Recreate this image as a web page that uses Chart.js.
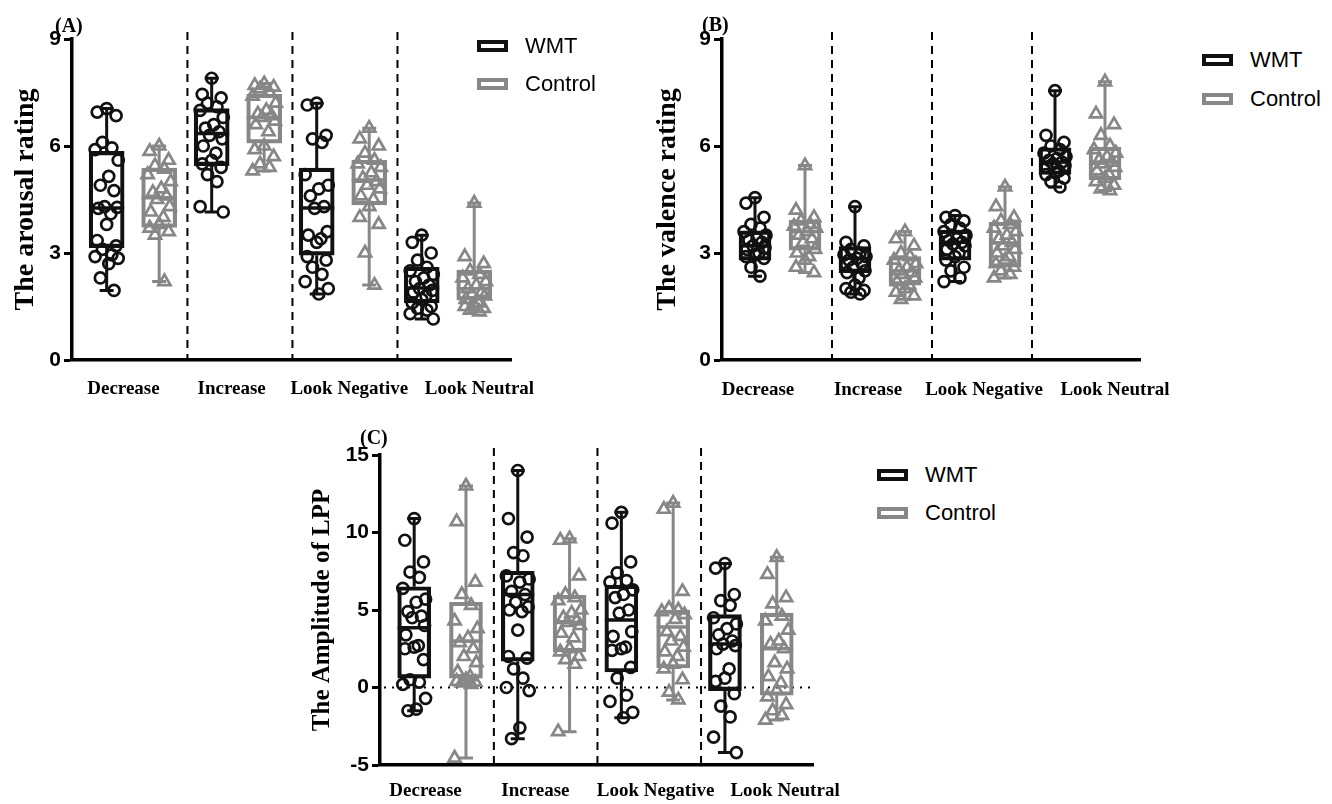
<!DOCTYPE html>
<html>
<head>
<meta charset="utf-8">
<script src="https://cdn.jsdelivr.net/npm/chart.js@4.4.1/dist/chart.umd.min.js"></script>
<style>
  body { margin: 0; background: #fff; }
  #page { position: relative; width: 1332px; height: 804px; overflow: hidden; }
  canvas { position: absolute; }
  .tag { position: absolute; font: bold 20px "Liberation Serif", "Times New Roman", serif; line-height: 20px; }
  .leg { position: absolute; font: 22px "Liberation Sans", Arial, sans-serif; line-height: 24px; height: 24px; display: flex; align-items: center; white-space: nowrap; }
  .leg .box { display: inline-block; width: 23px; height: 4px; border: 4px solid; margin-right: 17px; }
</style>
</head>
<body>
<div id="page">
  <canvas id="chartA" width="560" height="420" style="left:0;top:0"></canvas>
  <canvas id="chartB" width="550" height="420" style="left:640px;top:0"></canvas>
  <canvas id="chartC" width="570" height="384" style="left:290px;top:420px"></canvas>

  <div class="tag" style="left:55px;top:15px">(A)</div>
  <div class="tag" style="left:702px;top:14px">(B)</div>
  <div class="tag" style="left:360px;top:427px">(C)</div>

  <div class="leg" style="left:477px;top:34px"><span class="box" style="border-color:#111"></span>WMT</div>
  <div class="leg" style="left:477px;top:72px"><span class="box" style="border-color:#878787"></span>Control</div>
  <div class="leg" style="left:1202px;top:48px"><span class="box" style="border-color:#111"></span>WMT</div>
  <div class="leg" style="left:1202px;top:87px"><span class="box" style="border-color:#878787"></span>Control</div>
  <div class="leg" style="left:877px;top:463px"><span class="box" style="border-color:#111"></span>WMT</div>
  <div class="leg" style="left:877px;top:501px"><span class="box" style="border-color:#878787"></span>Control</div>
</div>
<script>
// categories and tick labels
const categories = ["Decrease", "Increase", "Look Negative", "Look Neutral"];
const ratingTicks = [0, 3, 6, 9];
const lppTicks = [-5, 0, 5, 10, 15];

// (A) arousal rating: individual points per condition
const arousalWMT = [
  [7.05, 6.95, 6.85, 6.1, 5.95, 5.9, 5.6, 5.15, 4.9, 4.75, 4.3, 4.28, 4.25, 4.1, 3.8, 3.35, 3.2, 3.1, 2.95, 2.9, 2.85, 2.7, 2.3, 1.95],
  [7.9, 7.45, 7.35, 7.2, 7.1, 7.0, 6.8, 6.6, 6.5, 6.4, 6.3, 6.2, 6.0, 5.8, 5.6, 5.5, 5.4, 5.2, 5.0, 4.3, 4.15],
  [7.2, 7.15, 6.3, 6.2, 6.1, 5.2, 4.9, 4.8, 4.6, 4.3, 4.25, 3.6, 3.5, 3.4, 3.3, 2.9, 2.8, 2.6, 2.4, 2.2, 2.0, 1.85],
  [3.5, 3.3, 3.0, 2.8, 2.6, 2.5, 2.4, 2.3, 2.2, 2.1, 2.0, 1.95, 1.9, 1.8, 1.7, 1.6, 1.5, 1.45, 1.4, 1.3, 1.15]
];
const arousalControl = [
  [6.0, 5.85, 5.6, 5.45, 5.35, 5.2, 5.0, 4.8, 4.7, 4.6, 4.5, 4.3, 4.15, 4.0, 3.8, 3.7, 3.6, 3.5, 2.2],
  [7.75, 7.7, 7.65, 7.6, 7.5, 7.4, 7.2, 7.0, 6.9, 6.85, 6.8, 6.7, 6.6, 6.4, 6.0, 5.9, 5.7, 5.5, 5.4, 5.3],
  [6.5, 6.2, 6.0, 5.8, 5.6, 5.5, 5.4, 5.25, 5.1, 5.0, 4.9, 4.8, 4.6, 4.5, 4.3, 4.0, 3.8, 3.0, 2.1],
  [4.4, 2.9, 2.7, 2.5, 2.4, 2.3, 2.2, 2.1, 2.0, 1.9, 1.85, 1.8, 1.7, 1.6, 1.55, 1.5, 1.45, 1.4, 1.35]
];
// box stats: [min, q1, median, q3, max]
const arousalWMTBox = [[1.95, 3.15, 4.26, 5.85, 7.05], [4.15, 5.45, 6.35, 7.05, 7.9], [1.85, 2.94, 4.26, 5.38, 7.2], [1.15, 1.6, 2.02, 2.6, 3.5]];
const arousalControlBox = [[2.2, 3.72, 4.55, 5.38, 6.0], [5.3, 6.08, 6.8, 7.45, 7.75], [2.1, 4.35, 5.05, 5.6, 6.5], [1.35, 1.68, 2.0, 2.52, 4.4]];

// (B) valence rating
const valenceWMT = [
  [4.55, 4.4, 4.0, 3.8, 3.7, 3.6, 3.5, 3.4, 3.35, 3.3, 3.2, 3.15, 3.1, 3.0, 2.95, 2.9, 2.85, 2.6, 2.35],
  [4.3, 3.3, 3.2, 3.1, 3.0, 2.95, 2.9, 2.85, 2.8, 2.7, 2.6, 2.5, 2.45, 2.3, 2.1, 2.0, 1.95, 1.9, 1.85],
  [4.05, 4.0, 3.9, 3.8, 3.7, 3.6, 3.5, 3.4, 3.35, 3.3, 3.25, 3.2, 3.1, 3.0, 2.9, 2.8, 2.6, 2.5, 2.3, 2.2],
  [7.55, 6.3, 6.1, 6.0, 5.9, 5.8, 5.7, 5.65, 5.6, 5.55, 5.5, 5.45, 5.4, 5.3, 5.25, 5.2, 5.1, 5.0, 4.85]
];
const valenceControl = [
  [5.45, 4.2, 4.0, 3.9, 3.8, 3.75, 3.7, 3.6, 3.5, 3.4, 3.3, 3.1, 3.0, 2.9, 2.8, 2.6, 2.45],
  [3.6, 3.4, 3.2, 3.0, 2.9, 2.8, 2.7, 2.6, 2.5, 2.45, 2.4, 2.3, 2.2, 2.1, 2.0, 1.9, 1.8, 1.7],
  [4.85, 4.3, 4.0, 3.9, 3.8, 3.7, 3.6, 3.5, 3.4, 3.3, 3.2, 3.1, 3.0, 2.9, 2.8, 2.7, 2.6, 2.5, 2.4, 2.3],
  [7.8, 6.9, 6.6, 6.3, 6.0, 5.9, 5.8, 5.7, 5.6, 5.55, 5.5, 5.4, 5.3, 5.2, 5.1, 5.0, 4.9, 4.8, 4.75]
];
const valenceWMTBox = [[2.35, 2.8, 3.2, 3.62, 4.55], [1.85, 2.45, 2.85, 3.18, 4.3], [2.2, 2.8, 3.3, 3.64, 4.05], [4.85, 5.2, 5.55, 5.95, 7.55]];
const valenceControlBox = [[2.45, 3.08, 3.6, 3.92, 5.45], [1.7, 2.1, 2.5, 2.9, 3.6], [2.3, 2.6, 3.28, 3.87, 4.85], [4.75, 5.05, 5.55, 5.97, 7.8]];

// (C) amplitude of LPP
const lppWMT = [
  [10.9, 9.5, 8.1, 7.45, 7.1, 6.4, 5.7, 5.5, 4.9, 4.6, 4.5, 4.0, 3.4, 2.7, 2.6, 2.5, 1.8, 0.5, 0.35, 0.2, -0.7, -1.4, -1.5],
  [14.0, 10.9, 9.7, 8.7, 8.5, 7.2, 7.0, 6.8, 6.2, 6.0, 5.5, 5.2, 5.0, 4.9, 3.7, 2.0, 1.9, 1.2, 0.6, 0.0, -0.2, -2.6, -3.3],
  [11.3, 10.6, 8.1, 7.4, 6.9, 6.8, 6.3, 6.0, 5.8, 5.0, 4.8, 3.6, 3.3, 2.6, 2.5, 2.4, 1.3, 0.6, -0.5, -0.9, -1.6, -1.95],
  [8.0, 7.7, 6.0, 5.6, 5.3, 4.5, 4.1, 3.8, 3.4, 3.0, 2.8, 2.7, 2.5, 1.2, 0.6, 0.4, -0.4, -1.2, -1.9, -3.2, -4.2]
];
const lppControl = [
  [13.0, 10.7, 6.8, 6.0, 5.3, 4.3, 3.8, 3.2, 2.9, 2.5, 2.0, 1.6, 1.0, 0.7, 0.5, 0.4, 0.35, 0.3, 0.2, -4.55],
  [9.6, 9.5, 7.2, 6.0, 5.8, 5.6, 5.0, 4.8, 4.5, 4.3, 4.2, 4.0, 3.5, 3.2, 2.5, 2.3, 2.0, 1.8, 1.5, -2.85],
  [11.9, 11.5, 6.2, 5.1, 5.0, 4.9, 4.7, 4.4, 3.6, 3.3, 3.0, 2.6, 2.3, 2.0, 1.5, 1.2, 0.5, -0.3, -0.8],
  [8.4, 7.3, 5.8, 5.4, 4.6, 4.3, 3.7, 3.0, 2.8, 2.5, 1.6, 1.2, 0.7, 0.3, -0.2, -0.6, -1.1, -1.5, -1.8, -2.1]
];
const lppWMTBox = [[-1.5, 0.6, 3.85, 6.5, 10.9], [-3.3, 1.7, 6.0, 7.5, 14.0], [-1.95, 1.0, 4.35, 6.6, 11.3], [-4.2, -0.2, 2.8, 4.7, 8.0]];
const lppControlBox = [[-4.55, 0.6, 3.0, 5.5, 13.0], [-2.85, 2.3, 4.2, 5.95, 9.6], [-0.8, 1.26, 3.9, 5.0, 11.9], [-2.1, -0.5, 2.5, 4.8, 8.4]];

// layout bits
const WMT_COLOR = '#111111';
const CTRL_COLOR = '#878787';
const GROUP_OFFSET = 0.25;
const jitter = [0, -0.09, 0.09, -0.04, 0.05, -0.11, 0.11, 0.02, -0.06, 0.07, -0.02, 0.1, -0.08, 0.04];
const serif = '"Liberation Serif", "Times New Roman", serif';
const sans = '"Liberation Sans", Arial, sans-serif';

const extrasPlugin = {
  id: 'boxExtras',
  beforeDatasetsDraw(chart, args, opts) {
    const {ctx, chartArea} = chart;
    const x = chart.scales.x, y = chart.scales.y;
    ctx.save();
    ctx.strokeStyle = '#000';
    ctx.lineWidth = 2;
    ctx.setLineDash([8, 6]);
    [0.5, 1.5, 2.5].forEach(v => {
      const px = x.getPixelForValue(v) + 2;
      ctx.beginPath();
      ctx.moveTo(px, chartArea.top - 7);
      ctx.lineTo(px, chartArea.bottom);
      ctx.stroke();
    });
    if (opts.zeroLine) {
      ctx.setLineDash([2, 6]);
      ctx.lineWidth = 2.2;
      const py = y.getPixelForValue(0);
      ctx.beginPath();
      ctx.moveTo(chartArea.left + 4, py);
      ctx.lineTo(chartArea.right, py);
      ctx.stroke();
    }
    ctx.restore();
  },
  afterDatasetsDraw(chart, args, opts) {
    const {ctx} = chart;
    const x = chart.scales.x, y = chart.scales.y;
    ctx.save();
    ctx.lineCap = 'butt';
    opts.groups.forEach(g => {
      ctx.strokeStyle = g.color;
      g.stats.forEach((s, k) => {
        const cx = x.getPixelForValue(k + g.offset);
        ctx.lineWidth = 3;
        ctx.beginPath();
        ctx.moveTo(cx, y.getPixelForValue(s[0]));
        ctx.lineTo(cx, y.getPixelForValue(s[1]));
        ctx.moveTo(cx, y.getPixelForValue(s[3]));
        ctx.lineTo(cx, y.getPixelForValue(s[4]));
        [s[0], s[4]].forEach(v => {
          const py = y.getPixelForValue(v);
          ctx.moveTo(cx - 7, py);
          ctx.lineTo(cx + 7, py);
        });
        ctx.stroke();
        ctx.lineWidth = 3.5;
        ctx.beginPath();
        const my = y.getPixelForValue(s[2]);
        ctx.moveTo(cx - opts.boxWidth / 2, my);
        ctx.lineTo(cx + opts.boxWidth / 2, my);
        ctx.stroke();
      });
    });
    ctx.restore();
  }
};

function points(values, offset) {
  return values.flatMap((arr, k) => arr.map((v, i) => ({x: k + offset + jitter[i % jitter.length], y: v})));
}

function boxes(stats, offset) {
  return stats.map((s, k) => ({x: k + offset, y: [s[1], s[3]]}));
}

function makePanel(id, cfg) {
  new Chart(document.getElementById(id), {
    type: 'bar',
    data: {
      datasets: [
        {type: 'bar', label: 'WMT', data: boxes(cfg.wmtBox, -GROUP_OFFSET), grouped: false, barThickness: cfg.boxWidth,
         borderColor: WMT_COLOR, borderWidth: 3.5, borderSkipped: false, backgroundColor: 'rgba(0,0,0,0)', order: 2},
        {type: 'bar', label: 'Control', data: boxes(cfg.ctrlBox, GROUP_OFFSET), grouped: false, barThickness: cfg.boxWidth,
         borderColor: CTRL_COLOR, borderWidth: 3.5, borderSkipped: false, backgroundColor: 'rgba(0,0,0,0)', order: 2},
        {type: 'scatter', label: 'WMT points', data: points(cfg.wmt, -GROUP_OFFSET), pointStyle: 'circle', pointRadius: 5.5,
         pointBorderWidth: 2.7, pointBorderColor: WMT_COLOR, pointBackgroundColor: 'rgba(0,0,0,0)', order: 1},
        {type: 'scatter', label: 'Control points', data: points(cfg.ctrl, GROUP_OFFSET), pointStyle: 'triangle', pointRadius: 7,
         pointBorderWidth: 2.7, pointBorderColor: CTRL_COLOR, pointBackgroundColor: 'rgba(0,0,0,0)', order: 1}
      ]
    },
    options: {
      responsive: false,
      animation: false,
      events: [],
      layout: {padding: cfg.padding},
      plugins: {
        legend: {display: false},
        tooltip: {enabled: false},
        boxExtras: {
          zeroLine: cfg.zeroLine,
          boxWidth: cfg.boxWidth,
          groups: [
            {stats: cfg.wmtBox, offset: -GROUP_OFFSET, color: WMT_COLOR},
            {stats: cfg.ctrlBox, offset: GROUP_OFFSET, color: CTRL_COLOR}
          ]
        }
      },
      scales: {
        x: {
          type: 'linear',
          min: -0.58,
          max: 3.6,
          offset: false,
          afterFit: s => { s.height = cfg.xHeight; s.paddingLeft = 0; s.paddingRight = 0; },
          afterBuildTicks: s => { s.ticks = cfg.labelPos.map(v => ({value: v})); },
          grid: {display: false, drawTicks: false, offset: false},
          border: {display: true, color: '#000', width: 3.5},
          ticks: {
            autoSkip: false, maxRotation: 0, padding: cfg.labelPad, color: '#000',
            font: {family: serif, size: 19, weight: 'bold'},
            callback: (v, i) => categories[i]
          }
        },
        y: {
          min: cfg.yTicks[0],
          max: cfg.yTicks[cfg.yTicks.length - 1],
          afterFit: s => { s.width = cfg.yWidth; s.paddingTop = 0; s.paddingBottom = 0; },
          afterBuildTicks: s => { s.ticks = cfg.yTicks.map(v => ({value: v})); },
          grid: {drawOnChartArea: false, drawTicks: true, tickLength: 8, tickWidth: 3, tickColor: '#000'},
          border: {display: true, color: '#000', width: 3.5},
          ticks: {padding: 3, color: '#000', font: {family: sans, size: 21, weight: 'bold'}},
          title: {
            display: true, text: cfg.title, color: '#000',
            font: {family: serif, size: cfg.titleSize, weight: 'bold'},
            padding: {top: cfg.titlePad, bottom: 0}
          }
        }
      }
    },
    plugins: [extrasPlugin]
  });
}

makePanel('chartA', {
  wmt: arousalWMT, ctrl: arousalControl, wmtBox: arousalWMTBox, ctrlBox: arousalControlBox,
  yTicks: ratingTicks, title: 'The arousal rating', titleSize: 28, titlePad: 9,
  padding: {left: 0, top: 39, right: 49, bottom: 0}, yWidth: 72, xHeight: 60,
  labelPos: [-0.09, 0.94, 2.06, 3.3], labelPad: 18, boxWidth: 35, zeroLine: false
});

makePanel('chartB', {
  wmt: valenceWMT, ctrl: valenceControl, wmtBox: valenceWMTBox, ctrlBox: valenceControlBox,
  yTicks: ratingTicks, title: 'The valence rating', titleSize: 28, titlePad: 11,
  padding: {left: 0, top: 39, right: 50, bottom: 0}, yWidth: 82, xHeight: 60,
  labelPos: [-0.22, 0.88, 2.04, 3.35], labelPad: 19, boxWidth: 32, zeroLine: false
});

makePanel('chartC', {
  wmt: lppWMT, ctrl: lppControl, wmtBox: lppWMTBox, ctrlBox: lppControlBox,
  yTicks: lppTicks, title: 'The Amplitude of LPP', titleSize: 25, titlePad: 18,
  padding: {left: 0, top: 35, right: 47, bottom: 0}, yWidth: 90, xHeight: 39,
  labelPos: [-0.14, 0.92, 2.08, 3.33], labelPad: 15, boxWidth: 33, zeroLine: true
});
</script>
</body>
</html>
